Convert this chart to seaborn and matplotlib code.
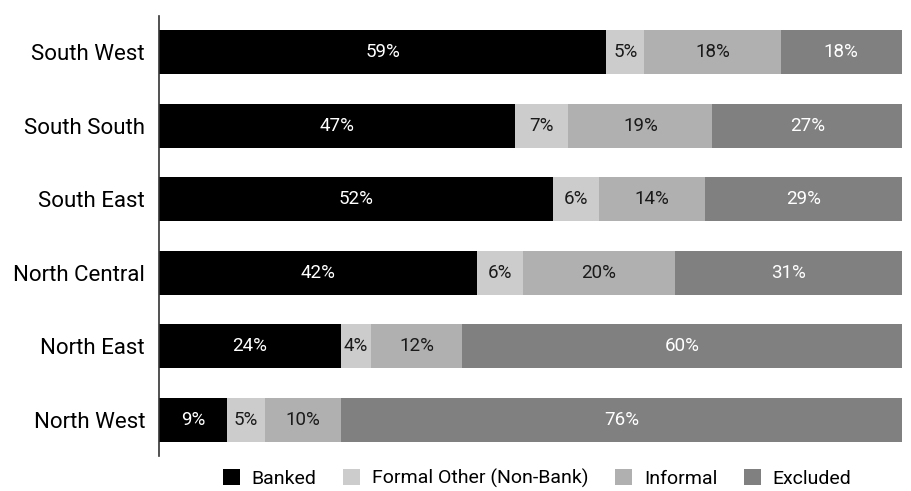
import matplotlib
matplotlib.use("Agg")
import matplotlib.pyplot as plt
from matplotlib.patches import Patch
import numpy as np
import pandas as pd
import seaborn as sns

regions = ["South West", "South South", "South East", "North Central", "North East", "North West"]
banked = [59, 47, 52, 42, 24, 9]
formal_other = [5, 7, 6, 6, 4, 5]
informal = [18, 19, 14, 20, 12, 10]
excluded = [18, 27, 29, 31, 60, 76]

series = ["Banked", "Formal Other (Non-Bank)", "Informal", "Excluded"]
colors = ["#000000", "#cccccc", "#b0b0b0", "#808080"]
text_colors = ["white", "#1a1a1a", "#1a1a1a", "white"]

df = pd.DataFrame({"region": regions, "Banked": banked,
                   "Formal Other (Non-Bank)": formal_other,
                   "Informal": informal, "Excluded": excluded})
cum = df[series].cumsum(axis=1)

sns.set_theme(style="white")
plt.rcParams["font.family"] = ["Roboto", "DejaVu Sans"]
plt.rcParams["text.color"] = "black"

XMAX = 98.0

fig = plt.figure(figsize=(9.11, 4.91), dpi=100)
ax = fig.add_axes([159 / 911, 35 / 491, 743 / 911, 440 / 491])

# stacked bars: draw cumulative totals from the right-most segment inward
for s, c in reversed(list(zip(series, colors))):
    sns.barplot(x=cum[s], y=df["region"], orient="h", color=c,
                width=0.6, saturation=1, ax=ax, edgecolor="none", linewidth=0)

# value labels centred on the visible part of each segment
for i, row in df.iterrows():
    left = 0
    for s, tc in zip(series, text_colors):
        v = row[s]
        right = min(left + v, XMAX)
        ax.text((left + right) / 2, i, f"{v}%", ha="center", va="center",
                color=tc, fontsize=13.5)
        left += v

ax.set_xlim(0, XMAX)
ax.set_ylim(5.49, -0.49)
ax.set_xlabel("")
ax.set_ylabel("")
ax.set_xticks([])
ax.tick_params(axis="y", length=0, pad=10, labelsize=16, labelcolor="black")
for side in ["top", "right", "bottom"]:
    ax.spines[side].set_visible(False)
ax.spines["left"].set_color("#333333")
ax.spines["left"].set_linewidth(1.2)

handles = [Patch(facecolor=c, edgecolor="none", label=s) for s, c in zip(series, colors)]
fig.legend(handles=handles, loc="center", bbox_to_anchor=(537 / 911, 1 - 478.5 / 491),
           ncol=4, frameon=False, fontsize=14, handlelength=0.9, handleheight=0.9,
           columnspacing=1.35, handletextpad=0.6, borderpad=0, borderaxespad=0)

fig.savefig("out.png", dpi=100)
